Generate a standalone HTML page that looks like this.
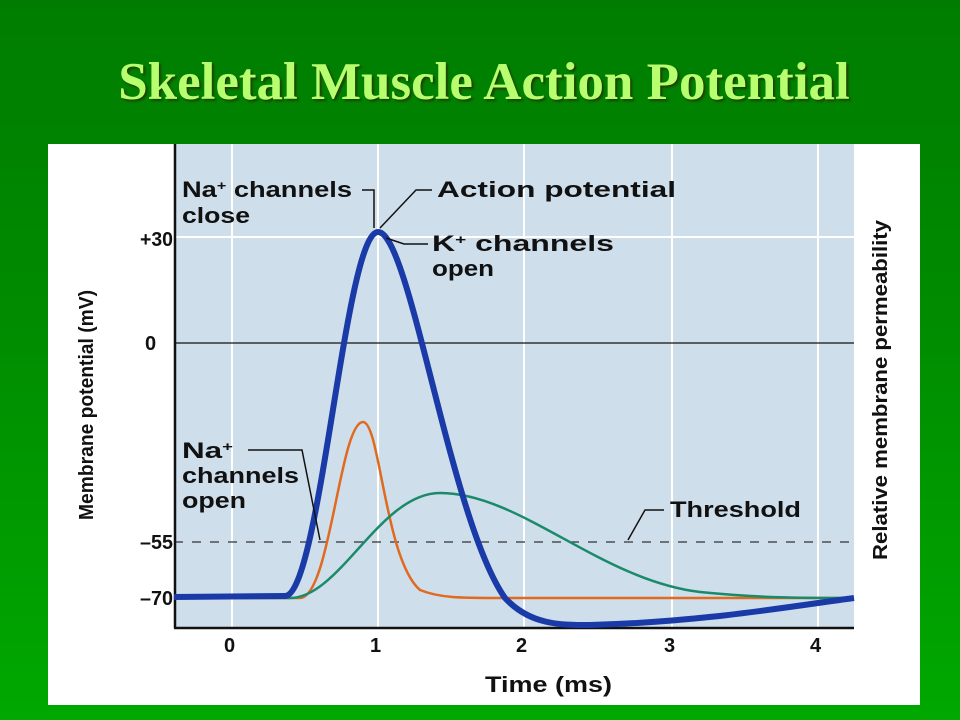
<!DOCTYPE html>
<html><head><style>
body{margin:0;width:960px;height:720px;overflow:hidden;background:linear-gradient(180deg,#007d00 0%,#008a00 40%,#00a800 100%);font-family:"Liberation Sans",sans-serif;position:relative}
.t{position:absolute;left:4px;width:960px;top:52px;text-align:center;font-family:"Liberation Serif",serif;font-weight:bold;font-size:53px;line-height:60px;color:#b8ff70;text-shadow:2px 2px 2px #204000}
svg{position:absolute;left:0;top:0}
</style></head><body>
<div class="t">Skeletal Muscle Action Potential</div>
<svg width="960" height="720" font-family="Liberation Sans" font-weight="bold" fill="#111">
<rect x="48" y="144" width="872" height="561" fill="#fff"/>
<rect x="174" y="144" width="680" height="484" fill="#cfdeeb"/>
<g stroke="#fff" stroke-width="2">
<line x1="232" y1="144" x2="232" y2="628"/><line x1="378" y1="144" x2="378" y2="628"/>
<line x1="524" y1="144" x2="524" y2="628"/><line x1="672" y1="144" x2="672" y2="628"/>
<line x1="818" y1="144" x2="818" y2="628"/><line x1="174" y1="237" x2="854" y2="237"/>
</g>
<line x1="174" y1="343" x2="854" y2="343" stroke="#111" stroke-width="1.2"/>
<line x1="174" y1="542" x2="854" y2="542" stroke="#333" stroke-width="1.3" stroke-dasharray="9,9"/>
<line x1="175" y1="144" x2="175" y2="628" stroke="#111" stroke-width="2.5"/>
<line x1="174" y1="628" x2="854" y2="628" stroke="#111" stroke-width="2.5"/>
<path d="M174 598 L300 598 C330 598 340 422 363 422 C380 422 385 560 420 590 C440 598 460 598 500 598 L854 598" fill="none" stroke="#e06a20" stroke-width="2.5"/>
<path d="M174 598 L290 598 C340 598 380 493 440 493 C520 493 600 580 700 592 C760 598 800 598 854 598" fill="none" stroke="#1a8a6a" stroke-width="2.5"/>
<path d="M174 597 L285 596 C320 596 345 232 378 232 C410 232 450 520 505 598 C530 625 560 625 590 625 C700 622 780 608 854 598" fill="none" stroke="#1a3aa8" stroke-width="6"/>
<g font-size="20">
<text x="140" y="246" textLength="33" lengthAdjust="spacingAndGlyphs">+30</text><text x="145" y="350">0</text><text x="140" y="549" textLength="33" lengthAdjust="spacingAndGlyphs">–55</text><text x="140" y="605" textLength="33" lengthAdjust="spacingAndGlyphs">–70</text>
<text x="224" y="652">0</text><text x="370" y="652">1</text><text x="516" y="652">2</text><text x="664" y="652">3</text><text x="810" y="652">4</text>
</g>
<g font-size="22">
<text x="485" y="692" textLength="127" lengthAdjust="spacingAndGlyphs">Time (ms)</text>
<text transform="translate(93,520) rotate(-90)" textLength="230" lengthAdjust="spacingAndGlyphs" font-size="20">Membrane potential (mV)</text>
<text transform="translate(887,560) rotate(-90)" textLength="340" lengthAdjust="spacingAndGlyphs" font-size="20">Relative membrane permeability</text>
<text x="182" y="197" textLength="170" lengthAdjust="spacingAndGlyphs">Na<tspan font-size="13" dy="-7">+</tspan><tspan dy="7"> channels</tspan></text><text x="182" y="223" textLength="68" lengthAdjust="spacingAndGlyphs">close</text>
<text x="437" y="197" textLength="239" lengthAdjust="spacingAndGlyphs">Action potential</text>
<text x="432" y="251" textLength="182" lengthAdjust="spacingAndGlyphs">K<tspan font-size="13" dy="-7">+</tspan><tspan dy="7"> channels</tspan></text><text x="432" y="276" textLength="62" lengthAdjust="spacingAndGlyphs">open</text>
<text x="182" y="458" textLength="51" lengthAdjust="spacingAndGlyphs">Na<tspan font-size="13" dy="-7">+</tspan></text><text x="182" y="483" textLength="117" lengthAdjust="spacingAndGlyphs">channels</text><text x="182" y="508" textLength="64" lengthAdjust="spacingAndGlyphs">open</text>
<text x="670" y="517" textLength="131" lengthAdjust="spacingAndGlyphs">Threshold</text>
</g>
<g fill="none" stroke="#111" stroke-width="1.5">
<path d="M362 190 L374 190 L374 228"/><path d="M432 190 L416 190 L380 228"/>
<path d="M428 244 L404 244 L386 238"/>
<path d="M248 450 L302 450 L320 540"/><path d="M664 510 L645 510 L628 540"/>
</g>
</svg>
</body></html>
